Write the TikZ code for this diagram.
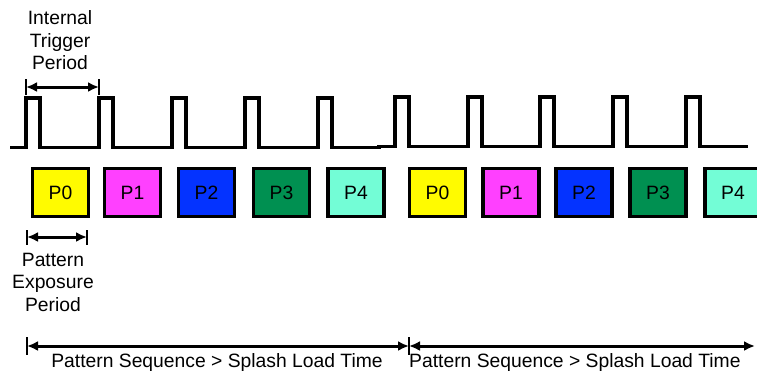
\documentclass[tikz,border=0pt]{standalone}
\usepackage{fontspec}
\setmainfont{Liberation Sans}
\usetikzlibrary{arrows.meta}
\definecolor{cP0}{HTML}{FFFB00}
\definecolor{cP1}{HTML}{FF40FF}
\definecolor{cP2}{HTML}{0433FF}
\definecolor{cP3}{HTML}{009051}
\definecolor{cP4}{HTML}{73FDD6}
\tikzset{
  sig/.style={line width=3.3pt, line join=miter},
  pbox/.style={draw, line width=3.2pt, minimum width=56pt, minimum height=48pt, inner sep=0pt, font=\fontsize{19.3}{22}\selectfont},
  lbl/.style={align=center, inner sep=0pt, font=\fontsize{19.3}{22.5}\selectfont},
  dim/.style={line width=3pt, {Latex[length=11pt,width=10pt]}-{Latex[length=11pt,width=10pt]}},
  dimbar/.style={line width=2.5pt},
}
\begin{document}
\begin{tikzpicture}[x=1pt,y=-1pt]
\useasboundingbox (0,0) rectangle (757,373);
% pulse train
\draw[sig] (10,147.5) foreach \x in {26,99,172,245,318} { -- (\x,147.5) -- (\x,98) -- (\x+14,98) -- (\x+14,147.5) } -- (379,147.5)
  -- (379,146.5) foreach \x in {395,468,540,613,686} { -- (\x,146.5) -- (\x,97) -- (\x+14,97) -- (\x+14,146.5) } -- (748,146.5);
% pattern boxes
\node[pbox, fill=cP0] (a0) at (60.5,192.5) {P0};
\node[pbox, fill=cP1] (a1) at (132.5,192.5) {P1};
\node[pbox, fill=cP2] (a2) at (206.5,192.5) {P2};
\node[pbox, fill=cP3] (a3) at (281.5,192.5) {P3};
\node[pbox, fill=cP4] (a4) at (356,192.5) {P4};
\node[pbox, fill=cP0] (b0) at (437.5,192.5) {P0};
\node[pbox, fill=cP1] (b1) at (511,192.5) {P1};
\node[pbox, fill=cP2] (b2) at (584,192.5) {P2};
\node[pbox, fill=cP3] (b3) at (658,192.5) {P3};
\node[pbox, fill=cP4] (b4) at (733,192.5) {P4};
% internal trigger period
\node[lbl] (trig) at (60,40.5) {Internal\\Trigger\\Period};
\coordinate (t1) at (26,87);
\coordinate (t2) at (99,87);
\draw[dimbar] (26,79) -- (26,95);
\draw[dimbar] (99,79) -- (99,95);
\draw[dim] (t1) -- (t2);
% pattern exposure period
\coordinate (e1) at (27,237);
\coordinate (e2) at (87,237);
\draw[dimbar] (27,230) -- (27,245);
\draw[dimbar] (87,230) -- (87,245);
\draw[dim] (e1) -- (e2);
\node[lbl] (expo) at (53,282) {Pattern\\Exposure\\Period};
% sequence arrows
\coordinate (s0) at (27,346);
\coordinate (s1) at (409,346);
\coordinate (s2) at (755,346);
\draw[dimbar] (27,337) -- (27,355);
\draw[dimbar] (409,337) -- (409,355);
\draw[dim] (s0) -- (s1);
\draw[dim] (s1) -- (s2);
\node[lbl, anchor=base] (seq1) at (217,367) {Pattern Sequence > Splash Load Time};
\node[lbl, anchor=base west] (seq2) at (409,367) {Pattern Sequence > Splash Load Time};
\end{tikzpicture}
\end{document}
